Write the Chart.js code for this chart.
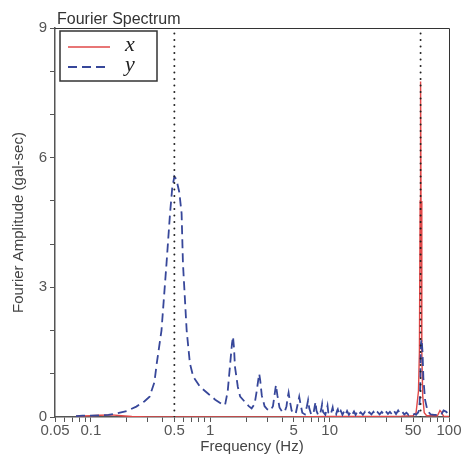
<!DOCTYPE html>
<html><head><meta charset="utf-8">
<script src="https://cdn.jsdelivr.net/npm/chart.js@4.4.1/dist/chart.umd.min.js"></script>
<style>html,body{margin:0;padding:0;background:#fff}</style>
</head><body>
<canvas id="c" width="465" height="462"></canvas>
<script>
const chartTitle = 'Fourier Spectrum';
const xAxisTitle = 'Frequency (Hz)';
const yAxisTitle = 'Fourier Amplitude (gal-sec)';
const seriesNames = ['x', 'y'];

// series y (blue dashed)
const yFreq = [0.075,0.085,0.1,0.12,0.14,0.165,0.2,0.24,0.28,0.31,0.34,0.356,0.39,0.43,0.46,0.48,0.5,0.52,0.55,0.575,0.59,0.634,0.675,0.72,0.82,0.95,1.1,1.25,1.33,1.4,1.46,1.52,1.55,1.58,1.61,1.7,1.78,1.95,2.1,2.22,2.35,2.45,2.52,2.57,2.62,2.7,2.85,3.0,3.2,3.35,3.45,3.55,3.65,3.8,4.0,4.2,4.35,4.45,4.53,4.62,4.8,5.0,5.2,5.4,5.56,5.7,5.9,6.2,6.45,6.6,6.75,7.0,7.3,7.5,7.62,7.75,8.0,8.3,8.55,8.65,8.8,9.2,9.5,9.6,9.75,10.2,10.5,10.6,10.8,11.3,11.6,11.7,12.0,12.4,12.8,13.2,13.6,14.0,14.5,15.0,15.5,16.0,16.5,17.0,17.5,18.2,19.0,19.8,20.6,21.5,22.4,23.3,24.2,25.2,26.2,27.3,28.4,29.6,30.8,32.0,33.3,34.6,36.0,37.5,39.0,40.6,42.2,44.0,45.8,47.6,49.5,51.5,53,54,55,56,56.8,57.5,57.8,58.2,59,60,61,63,66,70,75,80,84,86,90,95,100];
const yAmp  = [0.02,0.03,0.03,0.04,0.05,0.085,0.14,0.24,0.36,0.47,0.8,1.24,2.0,3.56,4.71,5.3,5.56,5.5,5.2,4.71,3.56,2.0,1.24,0.93,0.7,0.55,0.4,0.3,0.28,0.6,1.16,1.7,1.86,1.6,1.16,0.7,0.47,0.35,0.25,0.2,0.3,0.6,0.85,1.0,0.85,0.5,0.25,0.18,0.15,0.25,0.5,0.74,0.5,0.22,0.12,0.12,0.25,0.45,0.56,0.4,0.15,0.08,0.08,0.3,0.47,0.3,0.1,0.06,0.25,0.39,0.2,0.06,0.06,0.25,0.35,0.15,0.05,0.05,0.22,0.3,0.12,0.05,0.2,0.26,0.1,0.05,0.18,0.22,0.08,0.05,0.16,0.18,0.06,0.14,0.05,0.13,0.06,0.14,0.05,0.12,0.06,0.13,0.05,0.12,0.06,0.11,0.05,0.12,0.06,0.11,0.06,0.12,0.05,0.11,0.06,0.12,0.06,0.13,0.07,0.12,0.06,0.14,0.07,0.15,0.08,0.12,0.06,0.1,0.05,0.08,0.05,0.07,0.05,0.08,0.1,0.15,0.35,0.8,1.3,1.7,1.8,1.5,0.9,0.4,0.15,0.06,0.05,0.05,0.04,0.05,0.15,0.12,0.03,0.02,0.02];

// series x (red solid)
const xFreq = [0.075,0.1,0.12,0.15,0.18,0.22,0.3,1,5,10,20,40,50,53,55.5,56.5,57.3,57.8,58.3,59.2,60.2,62,65,80,84,86,90,100];
const xAmp  = [0.02,0.03,0.04,0.05,0.03,0.01,0.0,0.0,0.0,0.01,0.01,0.02,0.03,0.1,0.6,1.5,5.0,7.76,5.0,1.5,0.5,0.1,0.03,0.03,0.15,0.12,0.02,0.01];

const markerFreqs = [0.5, 57.8];
const xTickValues = [0.05,0.06,0.07,0.08,0.09,0.1,0.2,0.3,0.4,0.5,0.6,0.7,0.8,0.9,1,2,3,4,5,6,7,8,9,10,20,30,40,50,60,70,80,90,100];
const xTickLabels = ['0.05','0.1','0.5','1','5','10','50','100'];
const yTickValues = [0,1,2,3,4,5,6,7,8,9];
const yTickLabels = ['0','3','6','9'];

const toPts = (fs, as) => fs.map((f, i) => ({x: f, y: as[i]}));
const FONT = 'Liberation Sans, Arial, sans-serif';

const datasets = [];
markerFreqs.forEach(f => datasets.push({
  data: [{x: f, y: yTickValues[0]}, {x: f, y: yTickValues[yTickValues.length - 1]}],
  borderColor: '#222', borderWidth: 2, borderDash: [0, 6.5], borderCapStyle: 'round',
  pointRadius: 0, order: 0
}));
datasets.push({label: seriesNames[1], data: toPts(yFreq, yAmp), borderColor: '#37479a', borderWidth: 1.8,
  borderDash: [9, 5], pointRadius: 0, order: 1});
datasets.push({label: seriesNames[0], data: toPts(xFreq, xAmp), borderColor: '#e04848', borderWidth: 1.4,
  pointRadius: 0, order: 2});

const decor = {
  id: 'decor',
  afterDatasetsDraw(chart) {
    const {ctx, chartArea: a} = chart;
    ctx.save();
    ctx.strokeStyle = '#333'; ctx.lineWidth = 1;
    ctx.beginPath();
    ctx.moveTo(a.left, a.top + 0.5); ctx.lineTo(a.right + 0.5, a.top + 0.5); ctx.lineTo(a.right + 0.5, a.bottom);
    ctx.stroke();
    // title
    ctx.fillStyle = '#333'; ctx.font = '16px ' + FONT; ctx.textBaseline = 'alphabetic'; ctx.textAlign = 'left';
    ctx.fillText(chartTitle, a.left + 2, a.top - 4);
    // legend
    const bx = a.left + 5, by = a.top + 3, bw = 97, bh = 50;
    ctx.fillStyle = '#fff'; ctx.fillRect(bx, by, bw, bh);
    ctx.strokeStyle = '#333'; ctx.lineWidth = 1.5; ctx.strokeRect(bx, by, bw, bh);
    seriesNames.forEach((name, i) => {
      const ds = chart.data.datasets.find(d => d.label === name);
      const y = by + 16 + i * 20;
      ctx.save();
      ctx.strokeStyle = ds.borderColor; ctx.lineWidth = ds.borderWidth;
      ctx.setLineDash(ds.borderDash || []);
      ctx.beginPath(); ctx.moveTo(bx + 8, y); ctx.lineTo(bx + 50, y); ctx.stroke();
      ctx.restore();
      ctx.fillStyle = '#222'; ctx.font = 'italic 22px "Liberation Serif", "Times New Roman", serif';
      ctx.textBaseline = 'middle';
      ctx.fillText(name, bx + 65, y - 2);
    });
    ctx.restore();
  }
};

new Chart(document.getElementById('c'), {
  type: 'scatter',
  data: {datasets},
  plugins: [decor],
  options: {
    responsive: false, animation: false, showLine: true,
    layout: {padding: {top: 28, right: 16, left: 0, bottom: 0}},
    plugins: {legend: {display: false}, tooltip: {enabled: false}},
    elements: {point: {radius: 0}, line: {tension: 0}},
    scales: {
      x: {
        type: 'logarithmic', position: 'bottom', min: 0.05, max: 100,
        afterBuildTicks: s => { s.ticks = xTickValues.map(v => ({value: v})); },
        afterFit: s => { s.height = 45; },
        ticks: {autoSkip: false, maxRotation: 0, minRotation: 0, padding: 0, color: '#555',
          font: {family: FONT, size: 15},
          callback: v => { const l = xTickLabels.find(t => Math.abs(parseFloat(t) - v) < 1e-6 * v); return l || ''; }},
        grid: {drawOnChartArea: false, drawTicks: true, tickLength: 5, tickColor: '#555', tickWidth: 1},
        border: {display: true, color: '#555', width: 1.5},
        title: {display: true, text: xAxisTitle, color: '#444', font: {family: FONT, size: 15}, padding: {top: 0, bottom: 6}}
      },
      y: {
        type: 'linear', position: 'left', min: 0, max: 9,
        afterBuildTicks: s => { s.ticks = yTickValues.map(v => ({value: v})); },
        afterFit: s => { s.width = 55; },
        ticks: {autoSkip: false, padding: 3, color: '#555', font: {family: FONT, size: 15},
          callback: v => yTickLabels.includes(String(v)) ? String(v) : ''},
        grid: {drawOnChartArea: false, drawTicks: true, tickLength: 5, tickColor: '#555', tickWidth: 1},
        border: {display: true, color: '#555', width: 1.5},
        title: {display: true, text: yAxisTitle, color: '#444', font: {family: FONT, size: 15}, padding: {top: 10, bottom: 0}}
      }
    }
  }
});
</script>
</body></html>
